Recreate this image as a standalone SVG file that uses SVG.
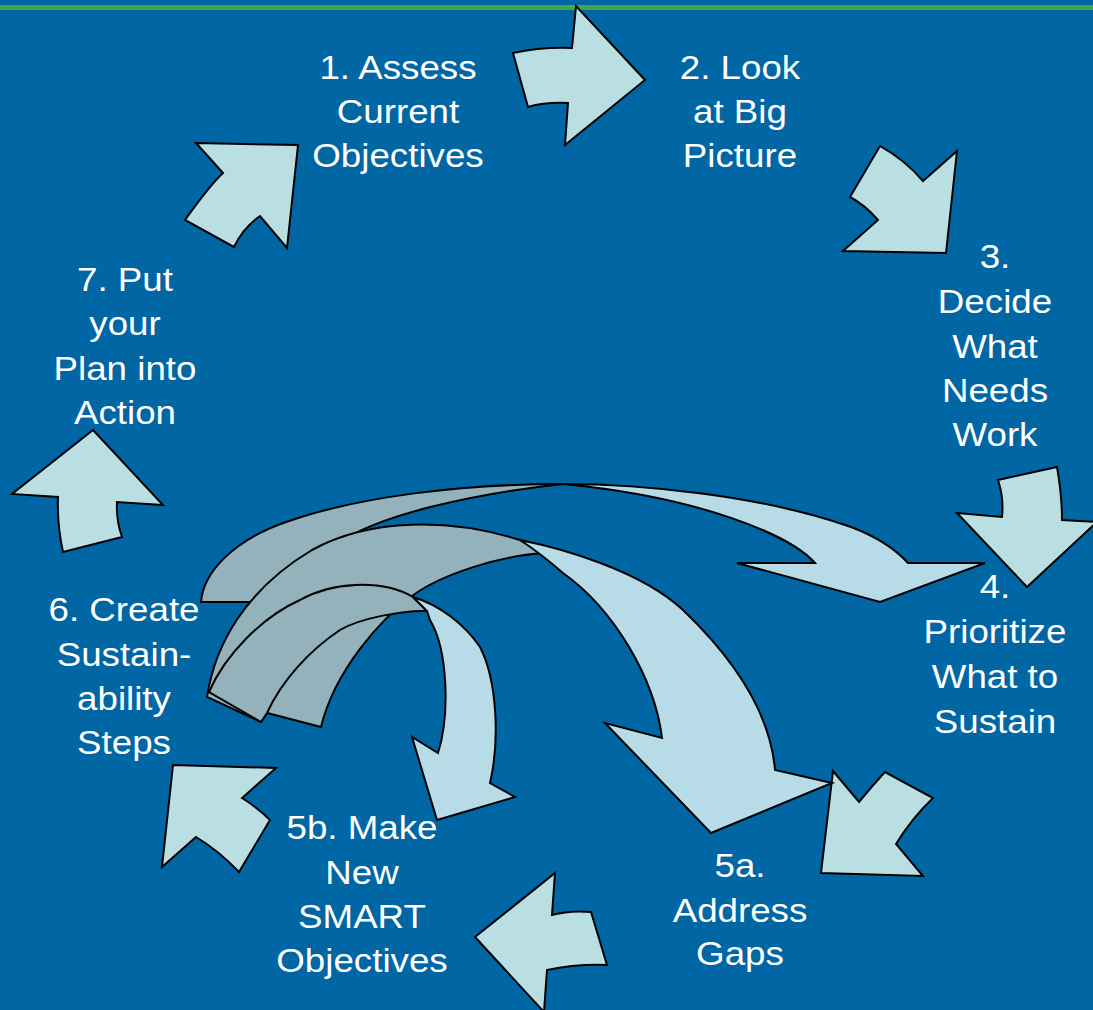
<svg xmlns="http://www.w3.org/2000/svg" width="1093" height="1010" viewBox="0 0 1093 1010">
  <style>
    .arr { fill: #BADFE2; stroke: #000; stroke-width: 2; stroke-linejoin: miter; }
    .lt { fill: #B7DCE7; stroke: #000; stroke-width: 2; stroke-linejoin: miter; }
    .dk { fill: #93B2BB; stroke: #000; stroke-width: 2; stroke-linejoin: miter; }
    .lbl { font-family: "Liberation Sans", Arial, sans-serif; font-size: 34px; fill: #FFFFFF; text-anchor: middle; }
  </style>
  <rect x="0" y="0" width="1093" height="1010" fill="#0066A4"/>
  <rect x="0" y="5" width="1093" height="5" fill="#40A845"/>

  <g id="connectors">
    <!-- cycle arrows -->
    <path class="arr" d="M196,143 L298,145 L287,248 L260,216 Q243,228 234,247 L185,220 Q210,185 223,173 Z"/>
    <path class="arr" d="M513,53 Q540,47 572,48 L576,6 L645,80 L565,145 L568,103 Q545,102 528,107 Z"/>
    <path class="arr" d="M880,146 Q905,160 923,181 L957,151 L946,253 L843,251 L878,220 Q865,205 850,197 Z"/>
    <path class="arr" d="M998,480 L1057,467 Q1062,495 1062,520 L1097,522 L1027,587 L957,513 L1002,517 Q1004,498 998,480 Z"/>
    <path class="arr" d="M833,771 L859,802 Q873,785 885,772 L933,798 Q912,818 896,844 L923,876 L821,873 Z"/>
    <path class="arr" d="M555,873 L552,915 Q570,910 591,912 L607,965 Q575,964 547,970 L544,1012 L475,937 Z"/>
    <path class="arr" d="M173,765 L276,768 L242,798 Q258,808 270,820 L239,872 Q218,850 196,837 L162,867 Z"/>
    <path class="arr" d="M93,430 L163,505 L117,502 Q116,520 122,537 L63,552 Q57,525 58,497 L12,494 Z"/>

    <!-- curved arrow A (to 4) -->
    <path class="dk" d="M201,602 C203,575 230,540 292,520 C360,497 460,484 563,484 C470,494 380,515 338,543 C305,565 275,585 263,602 Z"/>
    <path class="lt" d="M563,484 C640,484 760,495 851,527 C880,538 898,552 908,563 L985,563 L880,602 L737,563 L815,563 C790,535 700,497 563,484 Z"/>

    <!-- curved arrow B (to 5a) -->
    <path class="dk" d="M207,697 C215,645 245,590 312,550 C370,518 450,518 520,540 L547,553 C500,555 440,575 412,596 C380,620 335,670 321,727 L267,713 L261,722 Z"/>
    <path class="lt" d="M520,540 C560,548 640,570 683,610 C730,655 770,710 775,770 L832,783 L711,833 L605,723 L662,738 C655,680 615,610 563,573 Q540,553 520,540 Z"/>

    <!-- curved arrow C (to 5b) -->
    <path class="dk" d="M209,692 C225,655 262,617 300,600 C330,583 380,578 413,597 L427,611 C405,610 360,618 340,630 C310,650 282,680 267,713 L261,722 Z"/>
    <path class="lt" d="M413,597 C440,605 465,625 480,647 C497,680 500,740 490,783 L515,797 L437,820 L412,737 L438,753 C450,715 448,650 430,620 L427,611 Z"/>
  </g>

  <g id="node-1" transform="matrix(1.08 0 0 1 -31.84 0)">
    <text class="lbl" x="398" y="79">1. Assess</text>
    <text class="lbl" x="398" y="123">Current</text>
    <text class="lbl" x="398" y="167">Objectives</text>
  </g>
  <g id="node-2" transform="matrix(1.08 0 0 1 -59.2 0)">
    <text class="lbl" x="740" y="79">2. Look</text>
    <text class="lbl" x="740" y="123">at Big</text>
    <text class="lbl" x="740" y="167">Picture</text>
  </g>
  <g id="node-3" transform="matrix(1.08 0 0 1 -79.6 0)">
    <text class="lbl" x="995" y="268">3.</text>
    <text class="lbl" x="995" y="313">Decide</text>
    <text class="lbl" x="995" y="358">What</text>
    <text class="lbl" x="995" y="402">Needs</text>
    <text class="lbl" x="995" y="446">Work</text>
  </g>
  <g id="node-4" transform="matrix(1.08 0 0 1 -79.6 0)">
    <text class="lbl" x="995" y="598">4.</text>
    <text class="lbl" x="995" y="643">Prioritize</text>
    <text class="lbl" x="995" y="688">What to</text>
    <text class="lbl" x="995" y="733">Sustain</text>
  </g>
  <g id="node-5a" transform="matrix(1.08 0 0 1 -59.2 0)">
    <text class="lbl" x="740" y="877">5a.</text>
    <text class="lbl" x="740" y="922">Address</text>
    <text class="lbl" x="740" y="965">Gaps</text>
  </g>
  <g id="node-5b" transform="matrix(1.08 0 0 1 -28.96 0)">
    <text class="lbl" x="362" y="839">5b. Make</text>
    <text class="lbl" x="362" y="884">New</text>
    <text class="lbl" x="362" y="928">SMART</text>
    <text class="lbl" x="362" y="972">Objectives</text>
  </g>
  <g id="node-6" transform="matrix(1.08 0 0 1 -9.92 0)">
    <text class="lbl" x="124" y="621">6. Create</text>
    <text class="lbl" x="124" y="666">Sustain-</text>
    <text class="lbl" x="124" y="710">ability</text>
    <text class="lbl" x="124" y="754">Steps</text>
  </g>
  <g id="node-7" transform="matrix(1.08 0 0 1 -10 0)">
    <text class="lbl" x="125" y="291">7. Put</text>
    <text class="lbl" x="125" y="335">your</text>
    <text class="lbl" x="125" y="380">Plan into</text>
    <text class="lbl" x="125" y="424">Action</text>
  </g>
</svg>
